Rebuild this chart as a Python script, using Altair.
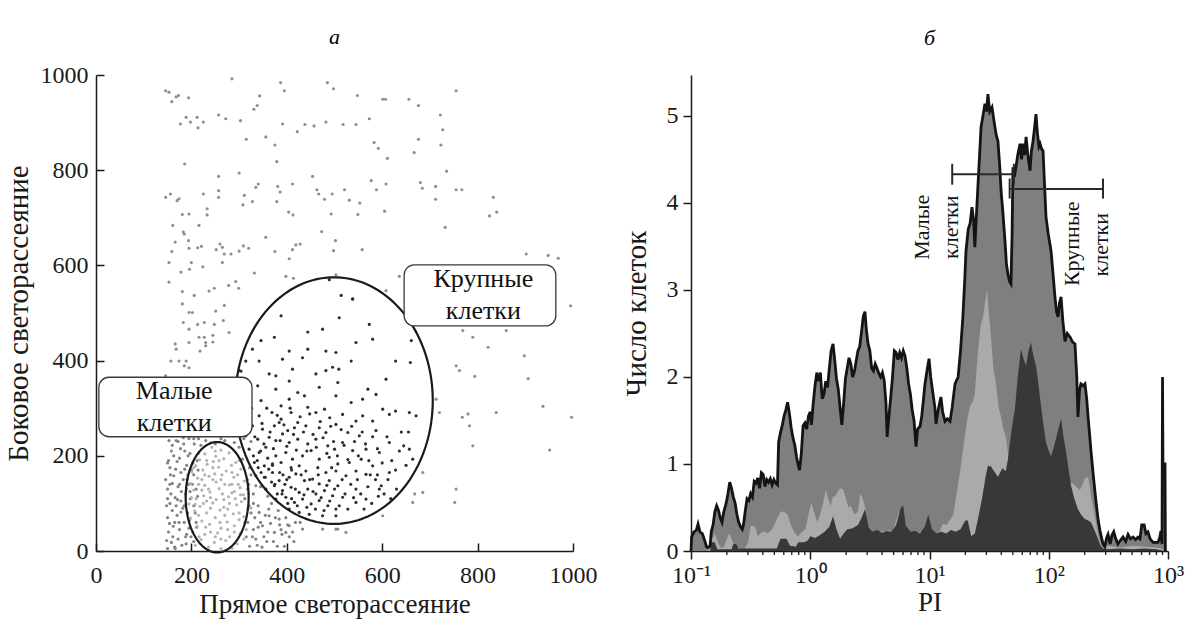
import altair as alt
import numpy as np
import pandas as pd

FONT = "Liberation Serif"

# ---------------- panel a : scatter (forward scatter, side scatter) ----------------
SPARSE = [(146,967),(153,964),(159,944),(168,954),(173,957),(194,952),(285,992),(387,984),(395,967),(485,984),
          (498,971),(343,956),(338,936),(331,928),(548,957),(601,949),(607,949),(656,949),(676,936),(755,967),
          (177,897),(189,911),(198,901),(212,911),(214,889),(225,901),(257,916),(272,908),(303,904),(391,897),
          (422,881),(438,896),(457,893),(482,901),(518,896),(545,896),(573,908),(583,858),(592,846),(611,825),
          (676,865),(667,837),(722,916),(727,885),(723,853),(315,865),(356,870),(375,853),(379,818),(735,798),
          (186,813),(257,787),(300,794),(454,787),(146,743),(156,750),(170,736),(174,740),(225,750),(233,719),
          (233,706),(257,757),(257,743),(311,747),(308,727),(328,734),(335,764),(340,771),(381,766),(386,754),
          (379,734),(412,771),(404,712),(413,706),(463,759),(467,750),(479,739),(495,750),(521,759),(531,737),
          (553,731),(493,708),(549,707),(577,778),(588,759),(608,771),(605,714),(680,774),(684,762),(712,766),
          (712,739),(755,759),(767,759),(833,743),(825,704),(840,712),(732,680),(161,684),(183,670),(181,707),
          (195,708),(216,684),(185,666),(194,652),(166,649),(159,629),(153,606),(195,636),(213,637),(221,640),
          (252,633),(260,645),(265,638),(269,624),(283,624),(300,630),(309,641),(320,636),(265,606),(200,606),
          (178,586),(224,597),(196,592),(356,659),(332,584),(375,629),(405,614),(412,633),(419,643),(428,645),
          (473,671),(502,652),(498,631),(558,633),(153,565),(181,545),(206,537),(237,546),(248,552),(278,558),
          (293,566),(299,552),(398,577),(414,573),(902,624),(948,621),(969,615),(503,580),(608,547),(636,577),
          (181,519),(195,501),(202,501),(251,504),(269,516),(267,484),(183,480),(195,466),(213,476),(227,480),
          (248,476),(216,449),(227,449),(230,438),(245,453),(245,439),(279,459),(166,435),(195,438),(218,420),
          (230,431),(168,424),(157,399),(174,399),(189,399),(185,389),(195,385),(146,368),(995,515),(769,463),
          (790,449),(860,463),(822,428),(898,410),(755,389),(762,379),(794,367),(906,362),(937,304),(839,291),
          (720,291),(768,281),(783,263),(780,288),(997,281),(790,221),(951,212),(668,120),(664,102),(755,130),
          (752,102),(685,123),(507,46),(524,39),(601,74),(713,319),(685,165)]

DARK = [(538,529),(388,494),(510,490),(573,476),(475,466),(444,460),(346,442),(374,449),(545,438),(580,445),
        (661,442),(328,424),(405,420),(444,424),(482,420),(314,399),(342,399),(391,403),(433,406),(503,417),
        (535,399),(628,399),(659,396),(300,379),(363,372),(377,368),(412,382),(461,372),(482,379),(496,386),
        (509,382),(405,357),(377,340),(423,333),(468,344),(507,354),(570,340),(608,361),(339,347),(321,319),
        (346,316),(388,305),(405,319),(437,326),(503,326),(535,312),(559,319),(587,329),(628,294),(657,291),
        (601,298),(311,291),(342,284),(369,291),(388,277),(409,291),(423,270),(444,302),(461,291),(479,298),
        (490,280),(517,287),(545,273),(559,284),(580,273),(615,287),(328,263),(349,256),(374,263),(384,270),
        (402,253),(416,259),(440,263),(468,259),(482,249),(503,266),(528,249),(552,242),(587,253),(615,228),
        (645,221),(314,242),(339,235),(363,239),(377,232),(391,246),(405,228),(423,235),(444,225),(461,235),
        (486,221),(500,214),(517,228),(538,211),(566,214),(594,207),(664,193),(321,214),(342,207),(356,218),
        (377,200),(398,207),(412,193),(433,200),(451,211),(468,193),(489,197),(507,183),(531,186),(556,193),
        (580,179),(332,186),(353,179),(370,183),(388,186),(409,175),(426,179),(440,168),(465,175),(482,165),
        (503,168),(524,158),(545,168),(566,161),(615,165),(335,158),(353,155),(370,165),(384,148),(405,155),
        (419,162),(437,148),(454,151),(468,141),(489,148),(507,137),(356,130),(374,137),(391,127),(409,134),
        (426,123),(444,130),(461,120),(479,127),(496,116),(517,113),(545,130),(598,137),(594,130),(377,109),
        (398,113),(416,102),(433,109),(451,99),(468,106),(486,95),(503,88),(405,88),(426,81),(447,77),
        (475,74),(503,74),(545,102),(566,109),(330,200),(345,210),(360,195),(514,537),(538,530),(489,570),
        (657,214),(671,284),(304,378),(375,140),(390,120),(340,175),(355,155),(370,180),(385,165),(400,150),
        (410,110),
        (318,270),(326,300),(333,240),(348,268),(352,225),(358,300),(365,250),(372,215),(380,285),(386,232),
        (394,265),(400,220),(407,300),(414,245),(420,212),(428,282),(435,250),(442,210),(448,288),(455,245),
        (462,218),(470,272),(476,238),(484,205),(492,262),(498,230),(506,200),(514,255),(520,222),(528,192),
        (536,262),(542,230),(550,200),(558,250),(565,225),(572,190),(580,240),(590,215),(600,185),(610,240),
        (338,190),(346,165),(362,172),(368,145),(380,120),(392,160),(396,140),(402,100),(410,170),(418,130),
        (422,95),(430,160),(436,118),(442,92),(448,150),(455,125),(460,88),(466,160),(472,112),(478,85),
        (484,138),(490,105),(494,175),(500,130),(510,95),(516,150),(522,120),(528,88),(534,140),(540,112),
        (548,150),(555,120),(562,88),(570,135),(578,100),(586,150),(592,115),(604,120),(612,150),(620,190),
        (628,170),(636,210),(640,250),(650,180),(655,250),(590,160),(575,160),(618,110),(630,130)]

MEDIUM = [(321,95),(342,81),(363,74),(384,67),(405,53),(349,53),(374,39),(398,39),(433,46),(475,46),
          (503,46),(307,193),(335,137),
          (322,10),(335,25),(348,8),(330,45),(345,60),(360,40),(372,20),(385,55),(325,80),(340,95),(355,75),
          (368,100),(382,85),(398,70),(330,120),(345,135),(360,115),(325,160),(405,30),(395,10),(418,60),
          (320,140),(318,60),(338,12),(352,30),(366,58),(390,35),(312,110),(315,30),(333,70),
          (328,30),(340,50),(358,20),(362,88),(376,70),(388,45),(402,55),(412,40),(330,100),(318,130),
          (322,175),(380,10),(415,20),(428,60),
          (150,5),(158,18),(165,8),(172,25),(180,12),(188,30),(152,40),(162,52),(175,45),(185,60),(195,48),
          (150,70),(160,85),(170,75),(182,90),(192,80),(155,100),(166,112),(178,105),(188,120),(198,110),
          (150,130),(160,142),(172,135),(183,150),(194,140),(156,160),(167,172),(178,165),(190,180),(200,170),
          (152,190),(163,200),(175,195),(186,210),(197,205),(160,222),(172,230),(184,225),(195,236),(168,232),
          (205,20),(210,60),(205,95),(210,130),(205,160),(212,190),(206,225),(150,110),(155,175),(165,60),
          (175,140),(190,35),(215,236),(230,232),(250,225),(270,232),(290,228),(310,236),(325,230),(220,222),
          (262,236),(300,218),
          (148,22),(154,58),(161,30),(168,95),(174,60),(179,125),(185,95),(191,150),(197,125),(203,185),
          (157,120),(163,158),(170,188),(177,215),(183,238),(189,15),(196,65),(202,140),(208,80),(213,115),
          (146,150),(150,185),(158,210),(166,5),(171,108),(178,82),(186,172),(193,200),(199,30),(205,236),
          (153,232),(211,50),(214,170),(148,95),(155,140)]

LIGHT = [(243,218),(262,212),(228,204),(251,199),(279,206),(217,192),(246,188),(268,194),(293,186),(209,179),
         (233,182),(257,176),(284,180),(304,172),(201,166),(224,170),(249,162),(273,168),(297,160),(213,153),
         (237,157),(262,150),(289,155),(311,147),(198,142),(228,138),(252,145),(280,139),(302,133),(205,128),
         (239,124),(258,131),(285,122),(309,118),(200,112),(226,116),(252,108),(278,114),(305,104),(195,99),
         (218,94),(245,101),(268,92),(295,97),(318,89),(207,84),(232,80),(260,86),(288,78),(310,72),
         (198,69),(222,63),(250,70),(275,61),(300,66),(212,52),(238,56),(262,48),(290,53),(315,45),
         (203,40),(228,35),(255,38),(280,30),(302,36),(220,24),(248,18),(272,22),(296,15),(236,8),
         (262,5),(285,6),(245,150),(265,120),(232,105),(285,140),(215,140),(270,75),(240,90),(292,110),
         (228,160),(258,190),(250,30),(276,45),(210,110),(320,120),(325,90),(190,130),(192,160),(318,150),
         (300,190),(240,228),(215,205),(310,25),(208,12),(264,160),(236,130),(280,100),
         (205,175),(222,150),(245,175),(270,140),(290,125),(300,80),(312,60),(230,50),(215,75),(260,60),
         (240,112),(268,108),(285,165),(250,210),(232,190),(298,140),(222,128),(208,98),(276,88),(262,25),
         (240,40),(290,40),(303,118),(216,30),(225,100)]

GROUPS = ["sparse", "medium", "light", "dark"]
GROUP_COLORS = ["#8f8f8f", "#838383", "#b3b3b3", "#2e2e2e"]

# gates (ellipses): centre x, centre y, radius x, radius y
GATES = [(254, 113, 66, 116), (499, 316, 207, 259)]
# labels in boxes
BOX_X1 = [6, 646]
BOX_X2 = [327, 964]
BOX_Y1 = [240, 473]
BOX_Y2 = [365, 601]
BOX_TEXT = ["Малые", "клетки", "Крупные", "клетки"]
BOX_TEXT_X = [164, 164, 812, 812]
BOX_TEXT_Y = [319, 252, 555, 487]

# ---------------- panel б : PI histogram (log10 PI, count) ----------------
TOTAL = [(-1.000,0.00),(-0.995,0.16),(-0.975,0.22),(-0.955,0.24),(-0.941,0.31),(-0.925,0.22),(-0.905,0.20),
         (-0.885,0.12),(-0.870,0.05),(-0.855,0.04),(-0.840,0.06),(-0.830,0.22),(-0.815,0.30),(-0.800,0.45),
         (-0.785,0.52),(-0.770,0.47),(-0.755,0.38),(-0.740,0.33),(-0.725,0.45),(-0.705,0.55),(-0.690,0.66),
         (-0.675,0.79),(-0.660,0.72),(-0.645,0.62),(-0.630,0.55),(-0.615,0.42),(-0.600,0.33),(-0.585,0.28),
         (-0.570,0.25),(-0.560,0.30),(-0.545,0.46),(-0.530,0.60),(-0.515,0.58),(-0.500,0.66),(-0.485,0.62),
         (-0.470,0.80),(-0.455,0.78),(-0.440,0.84),(-0.425,0.72),(-0.410,0.90),(-0.395,0.88),(-0.380,0.74),
         (-0.365,0.82),(-0.350,0.79),(-0.335,0.83),(-0.320,0.76),(-0.305,0.82),(-0.290,0.78),(-0.275,0.76),
         (-0.265,1.25),(-0.250,1.36),(-0.235,1.44),(-0.220,1.55),(-0.205,1.62),(-0.190,1.71),(-0.175,1.58),
         (-0.160,1.42),(-0.145,1.30),(-0.130,1.22),(-0.115,1.08),(-0.100,0.98),(-0.090,0.93),(-0.075,1.12),
         (-0.060,1.44),(-0.045,1.47),(-0.030,1.40),(-0.015,1.55),(0.000,1.60),(0.010,1.45),(0.025,1.70),
         (0.040,1.90),(0.055,2.05),(0.070,1.95),(0.085,2.05),(0.100,1.75),(0.115,1.80),(0.130,1.95),
         (0.145,1.88),(0.160,2.10),(0.175,2.30),(0.191,2.38),(0.205,2.20),(0.220,1.98),(0.235,1.86),
         (0.250,1.65),(0.265,1.45),(0.280,1.70),(0.295,1.98),(0.310,2.10),(0.325,2.22),(0.340,2.15),
         (0.355,2.00),(0.370,2.06),(0.385,2.18),(0.400,2.30),(0.415,2.35),(0.430,2.52),(0.445,2.70),
         (0.459,2.75),(0.470,2.55),(0.485,2.38),(0.500,2.30),(0.515,2.10),(0.530,2.07),(0.545,2.15),
         (0.560,2.10),(0.575,2.04),(0.590,2.00),(0.605,2.05),(0.620,1.96),(0.635,1.70),(0.645,1.31),
         (0.660,1.55),(0.677,1.80),(0.690,2.00),(0.705,2.30),(0.720,2.28),(0.735,2.20),(0.750,2.28),
         (0.765,2.22),(0.780,2.30),(0.795,2.24),(0.810,2.10),(0.825,1.92),(0.840,1.80),(0.855,1.62),
         (0.870,1.50),(0.887,1.20),(0.900,1.40),(0.920,1.43),(0.935,1.55),(0.950,1.75),(0.962,1.92),
         (0.980,2.08),(0.996,2.21),(1.010,2.00),(1.030,1.80),(1.045,1.65),(1.055,1.46),(1.070,1.60),
         (1.085,1.70),(1.096,1.77),(1.110,1.60),(1.130,1.49),(1.150,1.52),(1.172,1.49),(1.190,1.65),
         (1.214,1.92),(1.240,2.00),(1.260,2.30),(1.280,2.69),(1.295,3.10),(1.306,3.45),(1.325,3.70),
         (1.340,3.76),(1.356,3.95),(1.370,3.80),(1.380,3.49),(1.395,3.90),(1.407,4.22),(1.420,4.55),
         (1.432,4.87),(1.448,5.00),(1.465,5.14),(1.478,5.05),(1.490,5.25),(1.505,5.05),(1.524,5.10),
         (1.540,4.95),(1.558,4.79),(1.574,4.71),(1.590,4.40),(1.600,4.14),(1.615,3.90),(1.633,3.56),
         (1.645,3.30),(1.658,3.18),(1.670,3.10),(1.683,3.07),(1.692,3.60),(1.700,4.41),(1.712,4.30),
         (1.725,4.41),(1.740,4.55),(1.759,4.68),(1.772,4.50),(1.784,4.68),(1.797,4.55),(1.810,4.76),
         (1.825,4.55),(1.843,4.37),(1.855,4.60),(1.868,4.71),(1.880,4.85),(1.893,5.02),(1.905,4.80),
         (1.918,4.65),(1.927,4.68),(1.940,4.62),(1.952,4.60),(1.965,4.20),(1.977,3.84),(1.995,3.65),
         (2.019,3.45),(2.035,3.20),(2.052,2.92),(2.065,2.75),(2.078,2.69),(2.090,2.85),(2.103,2.92),
         (2.118,2.65),(2.136,2.41),(2.155,2.50),(2.178,2.46),(2.200,2.40),(2.220,2.38),(2.235,2.00),
         (2.245,1.54),(2.258,1.85),(2.270,1.92),(2.290,1.90),(2.304,1.92),(2.318,1.75),(2.330,1.54),
         (2.342,1.35),(2.354,1.15),(2.375,0.85),(2.396,0.57),(2.415,0.35),(2.430,0.23),(2.445,0.14),
         (2.455,0.08),(2.470,0.05),(2.485,0.15),(2.497,0.19),(2.515,0.08),(2.530,0.18),(2.545,0.22),
         (2.560,0.15),(2.580,0.08),(2.600,0.12),(2.623,0.16),(2.645,0.11),(2.665,0.19),(2.685,0.14),
         (2.707,0.16),(2.728,0.13),(2.748,0.16),(2.765,0.14),(2.780,0.30),(2.800,0.30),(2.815,0.20),
         (2.832,0.22),(2.850,0.14),(2.874,0.10),(2.895,0.10),(2.916,0.10),(2.930,0.15),(2.941,0.23),
         (2.950,0.08),(2.954,2.00),(2.958,0.90),(2.962,1.00),(2.975,1.00),(2.978,0.00)]

SMALL_CELLS = [(-1.00,0),(-0.86,0),(-0.84,0.08),(-0.82,0.14),(-0.80,0.20),(-0.78,0.12),(-0.76,0.06),(-0.74,0.03),
               (-0.72,0.06),(-0.70,0.14),(-0.68,0.20),(-0.66,0.14),(-0.64,0.06),(-0.62,0.02),(-0.58,0.02),
               (-0.55,0.03),(-0.52,0.10),(-0.50,0.29),(-0.48,0.29),(-0.46,0.27),(-0.44,0.17),(-0.42,0.20),
               (-0.40,0.22),(-0.38,0.22),(-0.36,0.20),(-0.34,0.22),(-0.32,0.25),(-0.30,0.30),(-0.28,0.37),
               (-0.25,0.45),(-0.22,0.45),(-0.19,0.42),(-0.16,0.29),(-0.13,0.20),(-0.10,0.17),(-0.07,0.22),
               (-0.04,0.25),(-0.01,0.45),(0.01,0.56),(0.03,0.45),(0.06,0.33),(0.09,0.45),(0.11,0.56),
               (0.13,0.70),(0.15,0.60),(0.17,0.52),(0.19,0.62),(0.21,0.63),(0.23,0.68),(0.25,0.72),
               (0.275,0.71),(0.30,0.60),(0.32,0.50),(0.34,0.52),(0.37,0.42),(0.40,0.45),(0.42,0.66),
               (0.44,0.60),(0.46,0.50),(0.48,0.31),(0.51,0.25),(0.54,0.12),(0.57,0.20),(0.60,0.23),
               (0.63,0.23),(0.66,0.24),(0.69,0.22),(0.72,0.35),(0.75,0.46),(0.78,0.38),(0.80,0.31),
               (0.83,0.22),(0.86,0.20),(0.89,0.18),(0.92,0.22),(0.95,0.20),(0.98,0.22),(1.02,0.16),
               (1.05,0.08),(1.08,0.20),(1.11,0.31),(1.14,0.30),(1.17,0.35),(1.20,0.42),(1.22,0.60),
               (1.24,0.77),(1.26,0.95),(1.28,1.15),(1.30,1.36),(1.32,1.54),(1.345,1.68),(1.365,1.72),
               (1.38,1.80),(1.395,2.10),(1.407,2.30),(1.43,2.60),(1.449,2.69),(1.465,2.85),(1.482,3.00),
               (1.50,2.70),(1.516,2.46),(1.535,2.10),(1.558,1.92),(1.58,1.65),(1.60,1.54),(1.62,1.40),
               (1.642,1.30),(1.66,1.10),(1.68,0.98),(1.70,0.90),(1.80,0.85),(1.90,0.80),(2.00,0.82),
               (2.10,0.80),(2.20,0.78),(2.26,0.70),(2.28,0.75),(2.30,0.83),(2.33,0.85),(2.36,0.60),
               (2.40,0.30),(2.42,0.15),(2.45,0.04),(2.50,0.06),(2.60,0.04),(2.70,0.06),(2.80,0.05),
               (2.90,0.04),(2.95,0.03),(2.97,0)]

LARGE_CELLS = [(-1.00,0),(-0.84,0),(-0.83,0.10),(-0.80,0.10),(-0.78,0.02),(-0.66,0.02),(-0.645,0.08),(-0.62,0.08),
               (-0.60,0.02),(-0.58,0.03),(-0.40,0.03),(-0.28,0.03),(-0.25,0.14),(-0.20,0.14),(-0.17,0.06),
               (-0.12,0.05),(-0.10,0.10),(-0.05,0.10),(-0.02,0.12),(0.00,0.17),(0.04,0.15),(0.08,0.18),
               (0.12,0.22),(0.16,0.28),(0.191,0.40),(0.22,0.25),(0.25,0.14),(0.28,0.20),(0.31,0.25),
               (0.35,0.26),(0.40,0.30),(0.43,0.38),(0.459,0.48),(0.49,0.28),(0.52,0.22),(0.56,0.24),
               (0.60,0.21),(0.64,0.23),(0.68,0.22),(0.72,0.30),(0.76,0.50),(0.78,0.52),(0.80,0.30),
               (0.84,0.22),(0.88,0.23),(0.92,0.20),(0.96,0.28),(0.99,0.42),(1.02,0.25),(1.06,0.20),
               (1.10,0.22),(1.14,0.20),(1.18,0.24),(1.22,0.22),(1.26,0.25),(1.30,0.35),(1.32,0.35),
               (1.35,0.17),(1.38,0.20),(1.41,0.39),(1.44,0.60),(1.47,0.85),(1.49,0.98),(1.516,0.97),
               (1.55,0.90),(1.574,0.85),(1.61,0.95),(1.64,0.92),(1.658,1.06),(1.68,1.30),(1.70,1.50),
               (1.716,1.63),(1.74,2.00),(1.767,2.32),(1.79,2.20),(1.81,2.13),(1.83,2.30),(1.851,2.40),
               (1.87,2.25),(1.893,2.13),(1.915,1.90),(1.935,1.67),(1.955,1.45),(1.977,1.25),(2.00,1.15),
               (2.02,1.09),(2.04,1.18),(2.06,1.29),(2.08,1.40),(2.103,1.52),(2.125,1.30),(2.145,1.14),
               (2.165,0.95),(2.187,0.75),(2.215,0.60),(2.245,0.48),(2.27,0.42),(2.30,0.37),(2.33,0.35),
               (2.354,0.33),(2.38,0.25),(2.413,0.14),(2.435,0.06),(2.455,0.03),(2.50,0.02),(2.60,0.03),
               (2.70,0.02),(2.80,0.03),(2.90,0.02),(2.97,0)]

MAJOR_TICKS = [0.1, 1, 10, 100, 1000]
MINOR_TICKS = [0.2,0.3,0.4,0.5,0.6,0.7,0.8,0.9, 2,3,4,5,6,7,8,9, 20,30,40,50,60,70,80,90,
               200,300,400,500,600,700,800,900]

# gate brackets on the histogram (PI from, PI to, count level)
BRACKET_X1 = [15.5, 47]
BRACKET_X2 = [51, 285]
BRACKET_Y = [4.33, 4.16]
CAP_X = [15.5, 51, 47, 285]
CAP_Y1 = [4.21, 4.21, 4.05, 4.05]
CAP_Y2 = [4.45, 4.45, 4.28, 4.28]
VTEXT = ["Малые", "клетки", "Крупные", "клетки"]
VTEXT_X = [8.6, 15.2, 157, 272]
VTEXT_Y = [3.72, 3.72, 3.53, 3.52]

W, H = 477, 476

# ---------------- build panel a ----------------
rows = []
for name, pts in [("sparse", SPARSE), ("medium", MEDIUM), ("light", LIGHT), ("dark", DARK)]:
    for (x, y) in pts:
        rows.append({"x": x, "y": y, "g": name})
pts_df = pd.DataFrame(rows)

ell_rows = []
t = np.linspace(0, 2 * np.pi, 181)
for k, (cx, cy, rx, ry) in enumerate(GATES):
    for i, tt in enumerate(t):
        ell_rows.append({"x": cx + rx * np.cos(tt), "y": cy + ry * np.sin(tt), "i": i, "id": k})
ell_df = pd.DataFrame(ell_rows)

box_df = pd.DataFrame({"x1": BOX_X1, "x2": BOX_X2, "y1": BOX_Y1, "y2": BOX_Y2})
btxt_df = pd.DataFrame({"x": BOX_TEXT_X, "y": BOX_TEXT_Y, "t": BOX_TEXT})

xs = alt.Scale(domain=[0, 1000], nice=False)
ys = alt.Scale(domain=[0, 1000], nice=False)
VALS = [0, 200, 400, 600, 800, 1000]

points = alt.Chart(pts_df).mark_circle(size=10, opacity=1).encode(
    x=alt.X("x:Q", scale=xs, axis=alt.Axis(values=VALS, ticks=False, labelPadding=12, format="d",
                                           title="Прямое светорассеяние", titlePadding=4, titleFontSize=27,
                                           labelFlush=False, grid=False)),
    y=alt.Y("y:Q", scale=ys, axis=alt.Axis(values=VALS, ticks=False, labelPadding=8, format="d",
                                           title="Боковое светорассеяние", titlePadding=7, titleFontSize=29,
                                           labelFlush=False, grid=False)),
    color=alt.Color("g:N", scale=alt.Scale(domain=GROUPS, range=GROUP_COLORS), legend=None),
)

ellipses = alt.Chart(ell_df).mark_line(color="#1a1a1a", strokeWidth=2.2).encode(
    x=alt.X("x:Q", scale=xs, axis=alt.Axis(orient="top", offset=-H, values=VALS, labels=False,
                                           domain=False, tickSize=8, title=None, grid=False)),
    y=alt.Y("y:Q", scale=ys, axis=alt.Axis(orient="right", offset=-W, values=VALS, labels=False,
                                           domain=False, tickSize=8, title=None, grid=False)),
    detail="id:N",
    order="i:Q",
)

boxes = alt.Chart(box_df).mark_rect(fill="white", stroke="#3a3a3a", strokeWidth=1.3, cornerRadius=10).encode(
    x=alt.X("x1:Q", scale=xs, axis=None), x2="x2:Q",
    y=alt.Y("y1:Q", scale=ys, axis=None), y2="y2:Q",
)

box_text = alt.Chart(btxt_df).mark_text(font=FONT, fontSize=26, color="#111", baseline="alphabetic").encode(
    x=alt.X("x:Q", scale=xs, axis=None),
    y=alt.Y("y:Q", scale=ys, axis=None),
    text="t:N",
)

left = alt.layer(points, ellipses, boxes, box_text).resolve_axis(
    x="independent", y="independent"
).properties(width=W, height=H,
             title=alt.TitleParams("а", font=FONT, fontSize=22, fontStyle="italic",
                                   fontWeight="normal", offset=14, anchor="middle"))

# ---------------- build panel б ----------------
def series(pairs, name):
    return pd.DataFrame({"v": [10 ** p[0] for p in pairs], "c": [p[1] for p in pairs], "s": name})

tot_df = series(TOTAL, "total")
sm_df = series(SMALL_CELLS, "small")
lg_df = series(LARGE_CELLS, "large")
minor_df = pd.DataFrame({"v": MINOR_TICKS})

lx = alt.Scale(type="log", domain=[0.1, 1000], nice=False)
ly = alt.Scale(domain=[0, 5.47], nice=False)

label_expr = ("datum.value == 0.1 ? '10⁻¹' : datum.value == 1 ? '10⁰' : datum.value == 10 ? '10¹' : "
              "datum.value == 100 ? '10²' : datum.value == 1000 ? '10³' : ''")

total_area = alt.Chart(tot_df).mark_area(color="#7e7f81", opacity=1).encode(
    x=alt.X("v:Q", scale=lx, axis=alt.Axis(values=MAJOR_TICKS, labelExpr=label_expr, tickSize=8,
                                           labelPadding=4, title="PI", titlePadding=2, titleFontSize=27,
                                           labelFlush=False, labelOverlap=False, grid=False)),
    y=alt.Y("c:Q", scale=ly, axis=alt.Axis(values=[0, 1, 2, 3, 4, 5], tickSize=8, labelPadding=5,
                                           title="Число клеток", titlePadding=15, titleFontSize=29,
                                           grid=False)),
)
small_area = alt.Chart(sm_df).mark_area(color="#a9aaac", opacity=1).encode(
    x=alt.X("v:Q", scale=lx, axis=None), y=alt.Y("c:Q", scale=ly, axis=None))
large_area = alt.Chart(lg_df).mark_area(color="#383838", opacity=1).encode(
    x=alt.X("v:Q", scale=lx, axis=None), y=alt.Y("c:Q", scale=ly, axis=None))
outline = alt.Chart(tot_df).mark_line(color="#141414", strokeWidth=2.8).encode(
    x=alt.X("v:Q", scale=lx, axis=None), y=alt.Y("c:Q", scale=ly, axis=None))
minor = alt.Chart(minor_df).mark_rule(color="#1a1a1a", strokeWidth=1.3).encode(
    x=alt.X("v:Q", scale=lx, axis=None), y=alt.value(H), y2=alt.value(H + 4))

br_df = pd.DataFrame({"x1": BRACKET_X1, "x2": BRACKET_X2, "y": BRACKET_Y})
cap_df = pd.DataFrame({"x": CAP_X, "y1": CAP_Y1, "y2": CAP_Y2})
vt_df = pd.DataFrame({"x": VTEXT_X, "y": VTEXT_Y, "t": VTEXT})

brackets = alt.Chart(br_df).mark_rule(color="#2a2a2a", strokeWidth=2).encode(
    x=alt.X("x1:Q", scale=lx, axis=None), x2="x2:Q", y=alt.Y("y:Q", scale=ly, axis=None))
caps = alt.Chart(cap_df).mark_rule(color="#2a2a2a", strokeWidth=2).encode(
    x=alt.X("x:Q", scale=lx, axis=None), y=alt.Y("y1:Q", scale=ly, axis=None), y2="y2:Q")
vtext = alt.Chart(vt_df).mark_text(font=FONT, fontSize=22, color="#111", angle=270,
                                   align="center", baseline="middle").encode(
    x=alt.X("x:Q", scale=lx, axis=None), y=alt.Y("y:Q", scale=ly, axis=None), text="t:N")

right = alt.layer(total_area, small_area, large_area, outline, minor, brackets, caps, vtext).resolve_axis(
    x="independent", y="independent"
).properties(
    width=W, height=H,
    title=alt.TitleParams("б", font=FONT, fontSize=22, fontStyle="italic",
                          fontWeight="normal", offset=25, anchor="middle"))

chart = alt.hconcat(left, right, spacing=25).properties(
    padding={"left": 4, "top": 26, "right": 2, "bottom": 2}
).configure_view(stroke=None).configure_axis(
    domainColor="#1a1a1a", domainWidth=1.5, tickColor="#1a1a1a", tickWidth=1.5,
    labelFont=FONT, labelFontSize=24, labelColor="#1a1a1a",
    titleFont=FONT, titleFontSize=25, titleFontWeight="normal", titleColor="#1a1a1a",
).configure_concat(spacing=25)

chart.save("out.html", embed_options={"renderer": "svg", "actions": False})
